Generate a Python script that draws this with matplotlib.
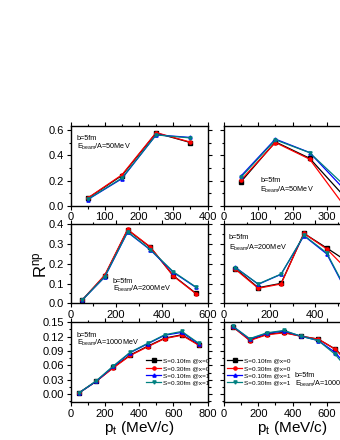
import matplotlib
matplotlib.use('Agg')
import matplotlib.pyplot as plt
from matplotlib.ticker import MultipleLocator

plt.rcParams['font.family'] = ['Liberation Sans', 'DejaVu Sans']
plt.rcParams['mathtext.fontset'] = 'custom'
plt.rcParams['mathtext.rm'] = 'Liberation Sans'
plt.rcParams['mathtext.it'] = 'Liberation Sans'

labels = ['S=0.10fm @x=0', 'S=0.30fm @x=0', 'S=0.10fm @x=1', 'S=0.30fm @x=1']
colors = ['black', 'red', 'blue', '#008080']
markers = ['s', 'o', '^', 'v']

# 50 MeV
pt_50 = [50, 150, 250, 350]
left50_s10x0 = [0.060, 0.240, 0.575, 0.500]
left50_s30x0 = [0.062, 0.245, 0.578, 0.503]
left50_s10x1 = [0.050, 0.215, 0.560, 0.540]
left50_s30x1 = [0.052, 0.220, 0.560, 0.536]
right50_s10x0 = [0.192, 0.505, 0.376, 0.079]
right50_s30x0 = [0.205, 0.500, 0.369, 0.005]
right50_s10x1 = [0.237, 0.527, 0.421, 0.134]
right50_s30x1 = [0.227, 0.521, 0.420, 0.166]

# 200 MeV
pt_200 = [50, 150, 250, 350, 450, 550]
left200_s10x0 = [0.015, 0.140, 0.372, 0.283, 0.140, 0.050]
left200_s30x0 = [0.015, 0.143, 0.374, 0.285, 0.138, 0.048]
left200_s10x1 = [0.015, 0.133, 0.360, 0.270, 0.157, 0.080]
left200_s30x1 = [0.015, 0.135, 0.362, 0.272, 0.160, 0.082]
right200_s10x0 = [0.176, 0.079, 0.101, 0.354, 0.280, 0.204]
right200_s30x0 = [0.172, 0.076, 0.098, 0.354, 0.275, 0.158]
right200_s10x1 = [0.182, 0.096, 0.147, 0.342, 0.250, 0.030]
right200_s30x1 = [0.180, 0.098, 0.148, 0.344, 0.255, 0.035]

# 1000 MeV
pt_1000 = [50, 150, 250, 350, 450, 550, 650, 750]
left1000_s10x0 = [0.003, 0.027, 0.056, 0.082, 0.100, 0.117, 0.124, 0.103]
left1000_s30x0 = [0.003, 0.027, 0.055, 0.081, 0.099, 0.116, 0.123, 0.102]
left1000_s10x1 = [0.003, 0.027, 0.058, 0.087, 0.105, 0.123, 0.129, 0.105]
left1000_s30x1 = [0.003, 0.028, 0.059, 0.088, 0.106, 0.124, 0.131, 0.106]
right1000_s10x0 = [0.141, 0.113, 0.125, 0.129, 0.121, 0.115, 0.094, 0.060]
right1000_s30x0 = [0.141, 0.112, 0.124, 0.128, 0.121, 0.115, 0.094, 0.055]
right1000_s10x1 = [0.142, 0.115, 0.127, 0.132, 0.121, 0.112, 0.087, 0.045]
right1000_s30x1 = [0.142, 0.116, 0.128, 0.133, 0.121, 0.112, 0.083, 0.040]

W, H = 340, 440
fig = plt.figure(figsize=(W / 100, H / 100), dpi=100)

def axes_px(x0, top, w, h):
    return fig.add_axes([x0 / W, 1 - (top + h) / H, w / W, h / H])

panels = [
    (70.5, 126, 80, pt_50, [left50_s10x0, left50_s30x0, left50_s10x1, left50_s30x1],
     (0, 400), 100, 50, (0, 0.63), 0.2, 0.1, True),
    (224, 126, 80, pt_50, [right50_s10x0, right50_s30x0, right50_s10x1, right50_s30x1],
     (0, 400), 100, 50, (0, 0.63), 0.2, 0.1, False),
    (70.5, 224.3, 79, pt_200, [left200_s10x0, left200_s30x0, left200_s10x1, left200_s30x1],
     (0, 600), 200, 100, (0, 0.4), 0.1, 0.05, True),
    (224, 224.3, 79, pt_200, [right200_s10x0, right200_s30x0, right200_s10x1, right200_s30x1],
     (0, 600), 200, 100, (0, 0.4), 0.1, 0.05, False),
    (70.5, 322.3, 80, pt_1000, [left1000_s10x0, left1000_s30x0, left1000_s10x1, left1000_s30x1],
     (0, 800), 200, 100, (-0.0167, 0.15), 0.03, 0.015, True),
    (224, 322.3, 80, pt_1000, [right1000_s10x0, right1000_s30x0, right1000_s10x1, right1000_s30x1],
     (0, 800), 200, 100, (-0.0167, 0.15), 0.03, 0.015, False),
]

axes = []
for (x0, top, h, xs, series, xlim, xmaj, xmin, ylim, ymaj, ymin, showy) in panels:
    ax = axes_px(x0, top, 137, h)
    for ys, c, m, lab in zip(series, colors, markers, labels):
        ax.plot(xs, ys, color=c, marker=m, markersize=2.3, linewidth=0.9, label=lab)
    ax.set_xlim(*xlim)
    ax.set_ylim(*ylim)
    ax.xaxis.set_major_locator(MultipleLocator(xmaj))
    ax.xaxis.set_minor_locator(MultipleLocator(xmin))
    ax.yaxis.set_major_locator(MultipleLocator(ymaj))
    ax.yaxis.set_minor_locator(MultipleLocator(ymin))
    ax.tick_params(which='both', direction='out', top=True, right=True,
                   labelsize=8, pad=1.5, width=0.8)
    ax.tick_params(which='major', length=3)
    ax.tick_params(which='minor', length=1.8)
    ax.tick_params(labelleft=showy)
    if ylim[1] < 0.2:
        ax.yaxis.set_major_formatter(matplotlib.ticker.FormatStrFormatter('%.2f'))
    else:
        ax.yaxis.set_major_formatter(matplotlib.ticker.FormatStrFormatter('%.1f'))
    for s in ax.spines.values():
        s.set_linewidth(1.0)
    axes.append(ax)

ann_fs = 5.2
def ann(ax, x, y1, y2, energy):
    ax.text(x, y1, 'b=5fm', transform=ax.transAxes, fontsize=ann_fs, va='center', ha='left')
    ax.text(x, y2, r'E$_{\rm beam}$/A=' + energy, transform=ax.transAxes,
            fontsize=ann_fs, va='center', ha='left')

ann(axes[0], 0.047, 0.84, 0.74, '50MeV')
ann(axes[1], 0.263, 0.316, 0.20, '50MeV')
ann(axes[2], 0.31, 0.282, 0.18, '200MeV')
ann(axes[3], 0.036, 0.83, 0.70, '200MeV')
ann(axes[4], 0.047, 0.83, 0.74, '1000MeV')
ann(axes[5], 0.518, 0.34, 0.234, '1000MeV')

leg_kw = dict(frameon=False, fontsize=4.6, handlelength=2.4, handletextpad=0.3,
              labelspacing=0.3, borderpad=0, borderaxespad=0)
axes[4].legend(loc='upper left', bbox_to_anchor=(146 / W, 1 - 358 / H),
               bbox_transform=fig.transFigure, **leg_kw)
axes[5].legend(loc='upper left', bbox_to_anchor=(227 / W, 1 - 358 / H),
               bbox_transform=fig.transFigure, **leg_kw)

fig.text(40 / W, 1 - 265 / H, r'R$^{\rm np}$', rotation=90, fontsize=12,
         ha='center', va='center')
fig.text(139 / W, 1 - 428 / H, r'p$_{\rm t}$ (MeV/c)', fontsize=11, ha='center', va='center')
fig.text(292 / W, 1 - 428 / H, r'p$_{\rm t}$ (MeV/c)', fontsize=11, ha='center', va='center')

fig.savefig('out.png', dpi=100)
